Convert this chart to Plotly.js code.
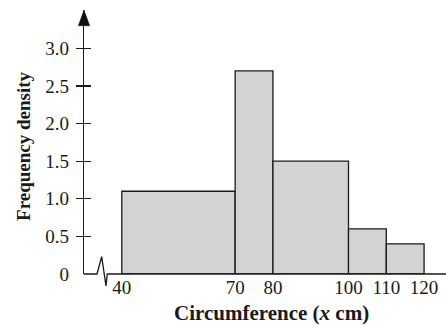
<!DOCTYPE html>
<html>
<head>
<meta charset="utf-8">
<script src="https://cdn.plot.ly/plotly-3.0.1.min.js"></script>
<style>html,body{margin:0;padding:0;background:#fff;}#chart{width:446px;height:325px;}</style>
</head>
<body>
<div id="chart"></div>
<script>
// Data
const binEdges = [40, 70, 80, 100, 110, 120];
const freqDensity = [1.1, 2.7, 1.5, 0.6, 0.4];
const xTickVals = [40, 70, 80, 100, 110, 120];
const xTickText = ['40', '70', '80', '100', '110', '120'];
const yTickVals = [0, 0.5, 1, 1.5, 2, 2.5, 3];
const yTickText = ['0', '0.5', '1.0', '1.5', '2.0', '2.5', '3.0'];
const yMarkVals = [0.5, 1, 1.5, 2, 2.5, 3];

const mids = [], widths = [];
for (let i = 0; i < freqDensity.length; i++) {
  mids.push((binEdges[i] + binEdges[i + 1]) / 2);
  widths.push(binEdges[i + 1] - binEdges[i]);
}

const FONT = 'Liberation Serif, Times New Roman, serif';
const INK = '#1a1a1a';
const xr = [30, 125.8];
const yr = [0, 3.51];

const traces = [
  {
    type: 'bar', x: mids, y: freqDensity, width: widths,
    marker: {color: '#d3d3d5', line: {color: INK, width: 1.3}},
    hoverinfo: 'none', showlegend: false
  },
  {type: 'scatter', x: [], y: [], yaxis: 'y2', showlegend: false, hoverinfo: 'none'},
  {type: 'scatter', x: [], y: [], yaxis: 'y3', showlegend: false, hoverinfo: 'none'}
];

const layout = {
  width: 446, height: 325,
  margin: {l: 84, r: 0, t: 10, b: 51, pad: 0},
  paper_bgcolor: '#fff', plot_bgcolor: '#fff',
  font: {family: FONT, size: 19, color: INK},
  showlegend: false,
  bargap: 0,
  xaxis: {
    range: xr, fixedrange: true, showgrid: false, zeroline: false, showline: false,
    ticks: '', tickmode: 'array', tickvals: xTickVals, ticktext: xTickText,
    tickfont: {family: FONT, size: 19, color: INK}, ticklabelstandoff: 0
  },
  yaxis: {
    range: yr, fixedrange: true, showgrid: false, zeroline: false,
    showline: true, linecolor: INK, linewidth: 1.3,
    ticks: 'outside', ticklen: 7, tickcolor: 'rgba(0,0,0,0)',
    tickmode: 'array', tickvals: yTickVals, ticktext: yTickText,
    tickfont: {family: FONT, size: 19, color: INK}, ticklabelstandoff: 3
  },
  yaxis2: {
    overlaying: 'y', anchor: 'x', side: 'left', range: yr, fixedrange: true,
    showgrid: false, zeroline: false, showline: false, showticklabels: false,
    ticks: 'outside', ticklen: 7, tickwidth: 1.3, tickcolor: INK,
    tickmode: 'array', tickvals: yMarkVals
  },
  yaxis3: {
    overlaying: 'y', anchor: 'x', side: 'left', range: yr, fixedrange: true,
    showgrid: false, zeroline: false, showline: false, showticklabels: false,
    ticks: 'inside', ticklen: 7, tickwidth: 1.3, tickcolor: INK,
    tickmode: 'array', tickvals: yMarkVals
  },
  shapes: [
    {
      type: 'path', xref: 'x', yref: 'paper',
      path: 'M 30,0 L 33.44,0 L 34.68,0.0655 L 35.82,-0.045 L 36.16,0 L 125.8,0',
      line: {color: INK, width: 1.3}
    },
    {
      type: 'path', xref: 'paper', yref: 'paper',
      path: 'M -0.0157,0.9405 L 0,1 L 0.0157,0.9405 Z',
      fillcolor: '#111', line: {color: '#111', width: 0.5}
    }
  ],
  annotations: [
    {
      xref: 'paper', yref: 'paper', x: 0.519, y: -0.1477,
      xanchor: 'center', yanchor: 'middle', showarrow: false,
      text: '<b>Circumference (<i>x</i> cm)</b>',
      font: {family: FONT, size: 21, color: INK}
    },
    {
      xref: 'paper', yref: 'paper', x: -0.1657, y: 0.485,
      xanchor: 'center', yanchor: 'middle', showarrow: false, textangle: -90,
      text: '<b>Frequency density</b>',
      font: {family: FONT, size: 19, color: INK}
    }
  ]
};

Plotly.newPlot('chart', traces, layout, {staticPlot: true, displayModeBar: false});
</script>
</body>
</html>
